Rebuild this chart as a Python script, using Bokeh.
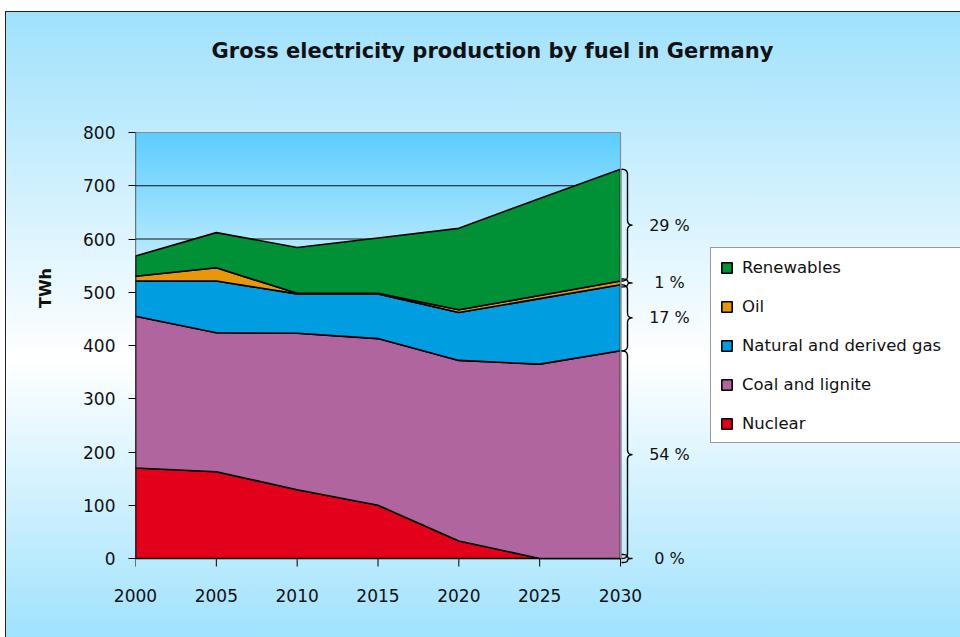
import numpy as np
from bokeh.plotting import figure
from bokeh.models import Range1d, FixedTicker, Legend, LegendItem, Label, LabelSet, ColumnDataSource
from bokeh.core.properties import value
from bokeh.embed import file_html
from bokeh.resources import INLINE

# ---------------- data (TWh) ----------------
years = [2000, 2005, 2010, 2015, 2020, 2025, 2030]
nuclear = [170, 163, 129, 100, 33, 0, 0]
coal = [285, 261, 294, 313, 339, 365, 390]
gas = [66, 97, 74, 84, 90, 123, 124]
oil = [9, 25, 1, 1, 5, 6, 7]
renewables = [38, 66, 86, 104, 153, 182, 210]

series_names = ["Nuclear", "Coal and lignite", "Natural and derived gas", "Oil", "Renewables"]
series_values = [nuclear, coal, gas, oil, renewables]
series_colors = ["#e2001a", "#b0659e", "#009ee0", "#e8970b", "#009036"]
shares_2030 = ["0 %", "54 %", "17 %", "1 %", "29 %"]   # labels as printed

y_ticks = [0, 100, 200, 300, 400, 500, 600, 700, 800]
x_ticks = years
title_text = "Gross electricity production by fuel in Germany"

# ---------------- geometry (page px) ----------------
W, H = 960, 637
X_LEFT, X_RIGHT = 135, 620      # page x of first / last year
Y_ZERO, Y_TOP = 558, 132        # page y of 0 / 800
FRAME_BOTTOM = 575
YR_PER_PX = (x_ticks[-1] - x_ticks[0]) / (X_RIGHT - X_LEFT)
U_PER_PX = (y_ticks[-1] - y_ticks[0]) / (Y_ZERO - Y_TOP)

def px_x(px):
    return x_ticks[0] + (px - X_LEFT) * YR_PER_PX

def px_y(py):
    return y_ticks[0] + (Y_ZERO - py) * U_PER_PX

bg = ("linear-gradient(#222,#222) 5px 11px / 1px calc(100% - 11px) no-repeat, "
      "linear-gradient(#222,#222) 5px 11px / calc(100% - 5px) 1px no-repeat, "
      "linear-gradient(to bottom, #9fe1fd 0%, #ffffff 55.7%, #a0e2fd 100%) 5px 11px / calc(100% - 5px) calc(100% - 11px) no-repeat, "
      "#ffffff")

p = figure(width=W, height=H,
           x_range=Range1d(px_x(X_LEFT), px_x(W)), y_range=Range1d(px_y(FRAME_BOTTOM), px_y(0)),
           output_backend="svg", toolbar_location=None,
           min_border_left=X_LEFT, min_border_right=0, min_border_top=0, min_border_bottom=H - FRAME_BOTTOM,
           background_fill_alpha=0, border_fill_alpha=0, outline_line_color=None,
           styles={"background": bg})
p.grid.visible = False

# plot-area gradient
n = 400
v = np.linspace(0, 1, n)
f = np.abs(v - 0.5) / 0.5
top_c = np.array([0x5c, 0xce, 0xfe], dtype=float)
rgb = 255 + (top_c - 255) * f[:, None]
img = np.zeros((n, 1), dtype=np.uint32)
view = img.view(dtype=np.uint8).reshape((n, 1, 4))
view[:, 0, :3] = rgb.astype(np.uint8)
view[:, 0, 3] = 255
p.image_rgba(image=[img], x=x_ticks[0], y=y_ticks[0], dw=x_ticks[-1] - x_ticks[0], dh=y_ticks[-1] - y_ticks[0])

# grid lines
p.segment(x0=[x_ticks[0]] * (len(y_ticks) - 2), x1=[x_ticks[-1]] * (len(y_ticks) - 2),
          y0=y_ticks[1:-1], y1=y_ticks[1:-1], line_color="#111111", line_width=1)

# stacked areas
bottom = np.zeros(len(years))
renderers = {}
bounds_2030 = []
for name, vals, col in zip(series_names, series_values, series_colors):
    top = bottom + np.array(vals, dtype=float)
    xs = list(years) + list(years[::-1])
    ys = list(top) + list(bottom[::-1])
    r = p.patch(xs, ys, fill_color=col, line_color="black", line_width=1.6)
    renderers[name] = r
    bounds_2030.append((bottom[-1], top[-1]))
    bottom = top

# plot area border (top/right) and y axis line
p.line([x_ticks[0], x_ticks[-1], x_ticks[-1]], [y_ticks[-1], y_ticks[-1], y_ticks[0]],
       line_color="#8a8a8a", line_width=1.2)
p.line([x_ticks[0], x_ticks[0]], [y_ticks[0], y_ticks[-1]], line_color="black", line_width=1.2)
# x tick marks (outward, 8px)
p.segment(x0=x_ticks, x1=x_ticks, y0=[y_ticks[0]] * len(x_ticks),
          y1=[y_ticks[0] - 8 * U_PER_PX] * len(x_ticks), line_color="black", line_width=1)

# braces
def qbez(p0, c, p1, k=8):
    s = np.linspace(0, 1, k)
    return ((1 - s) ** 2)[:, None] * np.array(p0) + (2 * (1 - s) * s)[:, None] * np.array(c) + (s ** 2)[:, None] * np.array(p1)

x_tip = x_ticks[-1] + 1 * YR_PER_PX
x_sp = x_ticks[-1] + 7 * YR_PER_PX
x_pt = x_ticks[-1] + 12 * YR_PER_PX
bxs, bys, lx, ly = [], [], [], []
for (b, t) in bounds_2030:
    hpx = (t - b) / U_PER_PX
    mid = (b + t) / 2
    if hpx < 8:
        b, t, hpx = mid - 4 * U_PER_PX, mid + 4 * U_PER_PX, 8
    r = min(5, hpx / 4) * U_PER_PX
    pts = np.vstack([
        qbez((x_tip, t), (x_sp, t), (x_sp, t - r)),
        qbez((x_sp, mid + r), (x_sp, mid), (x_pt, mid)),
        qbez((x_pt, mid), (x_sp, mid), (x_sp, mid - r)),
        qbez((x_sp, b + r), (x_sp, b), (x_tip, b)),
    ])
    bxs.append(list(pts[:, 0]))
    bys.append(list(pts[:, 1]))
    lx.append(px_x(669))
    ly.append(mid)
p.multi_line(bxs, bys, line_color="black", line_width=1.4)

lab_src = ColumnDataSource(dict(x=lx, y=ly, text=shares_2030))
p.add_layout(LabelSet(x="x", y="y", text="text", source=lab_src, text_font=value("DejaVu Sans"),
                      text_font_size=value("16px"), text_color="#111111", text_align="center",
                      text_baseline="middle"))

# title
p.add_layout(Label(x=px_x(492), y=px_y(50), text=title_text, text_font="DejaVu Sans",
                   text_font_style="bold", text_font_size="21px", text_color="#111111",
                   text_align="center", text_baseline="middle"))

# axes
p.xaxis.ticker = FixedTicker(ticks=x_ticks)
p.yaxis.ticker = FixedTicker(ticks=y_ticks)
p.xaxis.axis_line_color = None
p.yaxis.axis_line_color = None
for ax in (p.xaxis, p.yaxis):
    ax.major_tick_in = 0
    ax.minor_tick_line_color = None
    ax.major_label_text_font = "DejaVu Sans"
    ax.major_label_text_font_size = "17px"
    ax.major_label_text_color = "#111111"
p.xaxis.major_tick_line_color = None
p.xaxis.major_tick_out = 0
p.xaxis.major_label_standoff = 13
p.yaxis.major_tick_line_color = "black"
p.yaxis.major_tick_out = 7
p.yaxis.major_label_standoff = 13
p.yaxis.axis_label = "TWh"
p.yaxis.axis_label_text_font = "DejaVu Sans"
p.yaxis.axis_label_text_font_style = "bold"
p.yaxis.axis_label_text_font_size = "16px"
p.yaxis.axis_label_text_color = "#111111"
p.yaxis.axis_label_standoff = 25

# legend
items = [LegendItem(label=nm, renderers=[renderers[nm]]) for nm in series_names[::-1]]
legend = Legend(items=items, location=(710 - X_LEFT, FRAME_BOTTOM - 443), orientation="vertical",
                label_text_font="DejaVu Sans", label_text_font_size="16.5px", label_text_color="#111111",
                glyph_width=13, glyph_height=13, label_height=20, label_width=235, spacing=19, padding=9,
                margin=0, label_standoff=9, border_line_color="#333333", border_line_width=1,
                background_fill_color="white", background_fill_alpha=1)
p.add_layout(legend)

open("out.html", "w").write(file_html(p, INLINE))
